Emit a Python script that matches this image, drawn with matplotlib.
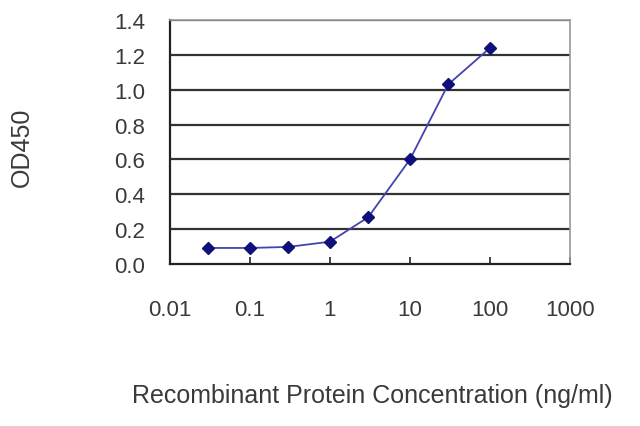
import matplotlib
matplotlib.use("Agg")
import matplotlib.pyplot as plt
import numpy as np

# data
conc = [0.03, 0.1, 0.3, 1, 3, 10, 30, 100]
od450 = [0.092, 0.092, 0.098, 0.128, 0.268, 0.60, 1.03, 1.24]
xticks = [0.01, 0.1, 1, 10, 100, 1000]
xtick_labels = ["0.01", "0.1", "1", "10", "100", "1000"]
yticks = [0.0, 0.2, 0.4, 0.6, 0.8, 1.0, 1.2, 1.4]

plt.rcParams['font.family'] = ['Liberation Sans', 'DejaVu Sans']

fig = plt.figure(figsize=(6.4, 4.27), dpi=100)
ax = fig.add_axes([0.2656, 0.3794, 0.625, 0.5714])

# horizontal grid lines
for y in yticks[1:]:
    ax.axhline(y, color='#333333', lw=1.6, zorder=1)

ax.plot(conc, od450, color='#4444b0', lw=1.3, zorder=2)
ax.plot(conc, od450, linestyle='none', marker='D', ms=6.5,
        color='#10107a', zorder=3)

ax.set_xscale('log')
ax.set_xlim(0.01, 1000)
ax.set_ylim(0, 1.4)
ax.set_xticks(xticks)
ax.set_xticklabels(xtick_labels)
ax.minorticks_off()
ax.set_yticks(yticks)
ax.set_yticklabels([f"{v:.1f}" for v in yticks])

ax.tick_params(axis='x', direction='in', length=5, width=1.2,
               colors='#222222', labelsize=16, pad=25, labelcolor='#3a3a3a')
ax.tick_params(axis='y', length=0, labelsize=16, pad=18, labelcolor='#3a3a3a')

for side in ['left', 'bottom']:
    ax.spines[side].set_color('#222222')
    ax.spines[side].set_linewidth(1.6)
for side in ['top', 'right']:
    ax.spines[side].set_color('#999999')
    ax.spines[side].set_linewidth(1.2)

fig.text(0.582, 0.072, "Recombinant Protein Concentration (ng/ml)",
         ha='center', va='center', fontsize=18, color='#3a3a3a')
fig.text(0.034, 0.655, "OD450", rotation=90, ha='center', va='center',
         fontsize=18, color='#3a3a3a')

fig.savefig("out.png", dpi=100)
